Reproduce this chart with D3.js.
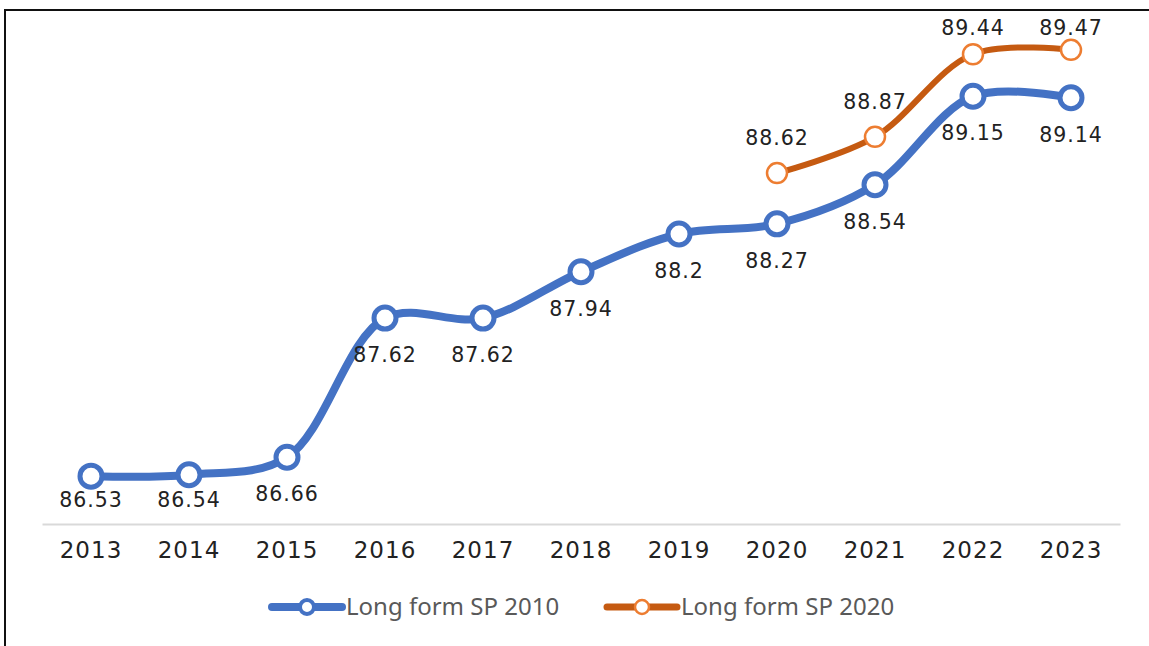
<!DOCTYPE html>
<html>
<head>
<meta charset="utf-8">
<script src="https://cdn.jsdelivr.net/npm/d3@7"></script>
<style>
  body { margin: 0; background: #fff; }
  svg { display: block; }
</style>
</head>
<body>
<svg id="chart" width="1149" height="646"></svg>
<script>
// data
const years = ['2013', '2014', '2015', '2016', '2017', '2018', '2019', '2020', '2021', '2022', '2023']
const sp2010 = [86.53, 86.54, 86.66, 87.62, 87.62, 87.94, 88.2, 88.27, 88.54, 89.15, 89.14]
const sp2020Years = ['2020', '2021', '2022', '2023']
const sp2020 = [88.62, 88.87, 89.44, 89.47]
const seriesNames = ['Long form SP 2010', 'Long form SP 2020']

const labelFont = "'DejaVu Sans', Verdana, sans-serif"

const svg = d3.select('#chart')

// frame
svg.append('rect')
  .attr('x', 5).attr('y', 10)
  .attr('width', 1160).attr('height', 700)
  .attr('fill', 'none')
  .attr('stroke', '#111')
  .attr('stroke-width', 2)

const x = d3.scaleBand()
  .domain(years)
  .range([42, 1120])

const y = d3.scaleLinear()
  .domain([86.2, 89.6])
  .range([524, 31])

const cx = (yr) => x(yr) + x.bandwidth() / 2

// axis
const xAxis = svg.append('g')
  .attr('transform', 'translate(0,524)')
  .call(d3.axisBottom(x).tickSize(0).tickPadding(18))
xAxis.select('.domain').attr('stroke', '#d9d9d9').attr('stroke-width', 2)
xAxis.selectAll('text')
  .style('font-family', labelFont)
  .style('font-size', '23px')
  .style('letter-spacing', '1px')
  .attr('fill', '#222')

const line = d3.line()
  .x((d) => cx(d.year))
  .y((d) => y(d.value))
  .curve(d3.curveCatmullRom.alpha(0.5))

const blue = sp2010.map((v, i) => ({ year: years[i], value: v }))
const orange = sp2020.map((v, i) => ({ year: sp2020Years[i], value: v }))

svg.append('path')
  .datum(blue)
  .attr('d', line)
  .attr('fill', 'none')
  .attr('stroke', '#4472c4')
  .attr('stroke-width', 8)
  .attr('stroke-linecap', 'round')

svg.append('path')
  .datum(orange)
  .attr('d', line)
  .attr('fill', 'none')
  .attr('stroke', '#c55a11')
  .attr('stroke-width', 6)
  .attr('stroke-linecap', 'round')

svg.append('g')
  .selectAll('circle')
  .data(blue)
  .join('circle')
  .attr('cx', (d) => cx(d.year))
  .attr('cy', (d) => y(d.value))
  .attr('r', 11)
  .attr('fill', '#fff')
  .attr('stroke', '#4472c4')
  .attr('stroke-width', 5)

svg.append('g')
  .selectAll('circle')
  .data(orange)
  .join('circle')
  .attr('cx', (d) => cx(d.year))
  .attr('cy', (d) => y(d.value))
  .attr('r', 10)
  .attr('fill', '#fff')
  .attr('stroke', '#ed7d31')
  .attr('stroke-width', 2.5)

// data labels
svg.append('g')
  .style('font-family', labelFont)
  .style('font-size', '20.5px')
  .style('letter-spacing', '1px')
  .attr('fill', '#222')
  .attr('text-anchor', 'middle')
  .selectAll('text')
  .data(blue)
  .join('text')
  .attr('x', (d) => cx(d.year))
  .attr('y', (d) => Math.min(y(d.value) + 37, 500))
  .attr('dy', '0.35em')
  .text((d) => d.value)

svg.append('g')
  .style('font-family', labelFont)
  .style('font-size', '20.5px')
  .style('letter-spacing', '1px')
  .attr('fill', '#222')
  .attr('text-anchor', 'middle')
  .selectAll('text')
  .data(orange)
  .join('text')
  .attr('x', (d) => cx(d.year))
  .attr('y', (d) => Math.max(y(d.value) - 35, 28))
  .attr('dy', '0.35em')
  .text((d) => d.value)

// legend
const legendItems = [
  { name: seriesNames[0], x: 272, line: '#4472c4', marker: '#4472c4', lw: 8, r: 7, mw: 4 },
  { name: seriesNames[1], x: 607, line: '#c55a11', marker: '#ed7d31', lw: 7, r: 7, mw: 2.5 },
]
const legend = svg.append('g').attr('transform', 'translate(0,607)')
const item = legend.selectAll('g')
  .data(legendItems)
  .join('g')
  .attr('transform', (d) => `translate(${d.x},0)`)
item.append('line')
  .attr('x1', 0).attr('x2', 70)
  .attr('stroke', (d) => d.line)
  .attr('stroke-width', (d) => d.lw)
  .attr('stroke-linecap', 'round')
item.append('circle')
  .attr('cx', 35)
  .attr('r', (d) => d.r)
  .attr('fill', '#fff')
  .attr('stroke', (d) => d.marker)
  .attr('stroke-width', (d) => d.mw)
item.append('text')
  .attr('x', 74)
  .attr('dy', '0.35em')
  .style('font-family', "'Noto Sans', sans-serif")
  .style('font-size', '24px')
  .attr('fill', '#595959')
  .text((d) => d.name)
</script>
</body>
</html>
